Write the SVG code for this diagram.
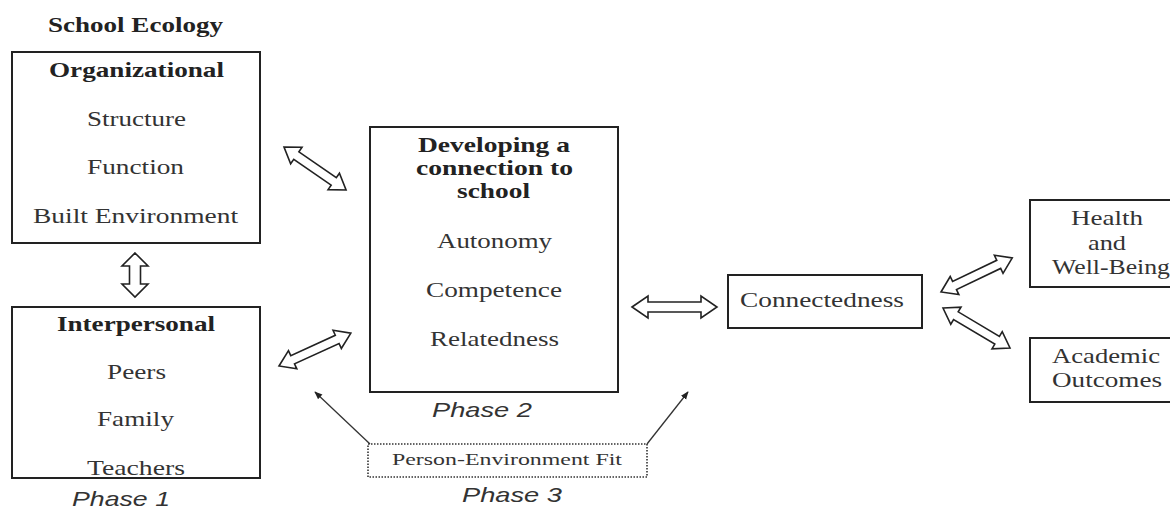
<svg xmlns="http://www.w3.org/2000/svg" width="1170" height="512" viewBox="0 0 1170 512">
<defs>
<style>
.box{fill:#fff;stroke:#222;stroke-width:2}
.dot{fill:#fff;stroke:#333;stroke-width:1.6;stroke-dasharray:1.5 1.5}
.t{font-family:"Liberation Serif","Times New Roman",serif;font-size:21px;fill:#333}
.b{font-family:"Liberation Serif","Times New Roman",serif;font-size:21px;font-weight:bold;fill:#222}
.s{font-family:"Liberation Serif","Times New Roman",serif;font-size:17px;fill:#333}
.p{font-family:"Liberation Sans",Arial,sans-serif;font-size:21px;font-style:italic;fill:#333}
.da{fill:#fff;stroke:#222;stroke-width:1.6;stroke-linejoin:miter}
.thin{fill:none;stroke:#333;stroke-width:1.3}
</style>
<marker id="ah" viewBox="0 0 10 10" refX="9" refY="5" markerWidth="8" markerHeight="8" orient="auto" markerUnits="userSpaceOnUse">
<path d="M0,1 L10,5 L0,9 Z" fill="#222"/>
</marker>
</defs>
<rect width="1170" height="512" fill="#fff"/>

<text class="b" x="48" y="32" textLength="175" lengthAdjust="spacingAndGlyphs">School Ecology</text>

<g id="organizational">
<rect class="box" x="12" y="52" width="248" height="191"/>
<text class="b" x="49" y="77" textLength="175" lengthAdjust="spacingAndGlyphs">Organizational</text>
<text class="t" x="87" y="126" textLength="99" lengthAdjust="spacingAndGlyphs">Structure</text>
<text class="t" x="87" y="174" textLength="97" lengthAdjust="spacingAndGlyphs">Function</text>
<text class="t" x="33" y="223" textLength="205" lengthAdjust="spacingAndGlyphs">Built Environment</text>
</g>

<g id="interpersonal">
<rect class="box" x="12" y="307" width="248" height="171"/>
<text class="b" x="57" y="331" textLength="158" lengthAdjust="spacingAndGlyphs">Interpersonal</text>
<text class="t" x="107" y="379" textLength="59" lengthAdjust="spacingAndGlyphs">Peers</text>
<text class="t" x="97" y="426" textLength="77" lengthAdjust="spacingAndGlyphs">Family</text>
<text class="t" x="87" y="475" textLength="98" lengthAdjust="spacingAndGlyphs">Teachers</text>
</g>
<text class="p" x="72" y="506" textLength="98" lengthAdjust="spacingAndGlyphs">Phase 1</text>

<g id="developing">
<rect class="box" x="370" y="127" width="248" height="265"/>
<text class="b" x="418" y="152" textLength="152" lengthAdjust="spacingAndGlyphs">Developing a</text>
<text class="b" x="416" y="175" textLength="157" lengthAdjust="spacingAndGlyphs">connection to</text>
<text class="b" x="457" y="198" textLength="73" lengthAdjust="spacingAndGlyphs">school</text>
<text class="t" x="437" y="248" textLength="115" lengthAdjust="spacingAndGlyphs">Autonomy</text>
<text class="t" x="426" y="297" textLength="136" lengthAdjust="spacingAndGlyphs">Competence</text>
<text class="t" x="430" y="346" textLength="129" lengthAdjust="spacingAndGlyphs">Relatedness</text>
</g>
<text class="p" x="432" y="417" textLength="100" lengthAdjust="spacingAndGlyphs">Phase 2</text>

<g id="connectedness">
<rect class="box" x="728" y="275" width="194" height="53"/>
<text class="t" x="740" y="307" textLength="164" lengthAdjust="spacingAndGlyphs">Connectedness</text>
</g>

<g id="health">
<rect class="box" x="1030" y="200" width="160" height="87"/>
<text class="t" x="1071" y="225" textLength="72" lengthAdjust="spacingAndGlyphs">Health</text>
<text class="t" x="1088" y="250" textLength="38" lengthAdjust="spacingAndGlyphs">and</text>
<text class="t" x="1052" y="274" textLength="118" lengthAdjust="spacingAndGlyphs">Well-Being</text>
</g>

<g id="academic">
<rect class="box" x="1030" y="338" width="160" height="64"/>
<text class="t" x="1052" y="363" textLength="108" lengthAdjust="spacingAndGlyphs">Academic</text>
<text class="t" x="1052" y="387" textLength="110" lengthAdjust="spacingAndGlyphs">Outcomes</text>
</g>

<g id="fit">
<rect class="dot" x="368" y="444" width="279" height="33"/>
<text class="s" x="392" y="465" textLength="230" lengthAdjust="spacingAndGlyphs">Person-Environment Fit</text>
</g>
<text class="p" x="462" y="502" textLength="100" lengthAdjust="spacingAndGlyphs">Phase 3</text>

<g id="connectors">
<path class="da" transform="translate(135,253) rotate(90)" d="M0,0 L13,-13 L13,-5.5 L31,-5.5 L31,-13 L44,0 L31,13 L31,5.5 L13,5.5 L13,13 Z"/>
<path class="da" transform="translate(284,147) rotate(34.7)" d="M0,0 L15,-10 L15,-4.5 L60.5,-4.5 L60.5,-10 L75.5,0 L60.5,10 L60.5,4.5 L15,4.5 L15,10 Z"/>
<path class="da" transform="translate(279,366) rotate(-24.6)" d="M0,0 L15,-10 L15,-4.5 L64,-4.5 L64,-10 L79,0 L64,10 L64,4.5 L15,4.5 L15,10 Z"/>
<path class="da" transform="translate(632,307)" d="M0,0 L16,-11 L16,-5 L69,-5 L69,-11 L85,0 L69,11 L69,5 L16,5 L16,11 Z"/>
<path class="da" transform="translate(941,292) rotate(-25.6)" d="M0,0 L15,-10 L15,-4.5 L64,-4.5 L64,-10 L79,0 L64,10 L64,4.5 L15,4.5 L15,10 Z"/>
<path class="da" transform="translate(943,308) rotate(30.8)" d="M0,0 L15,-10 L15,-4.5 L63,-4.5 L63,-10 L78,0 L63,10 L63,4.5 L15,4.5 L15,10 Z"/>
<line class="thin" x1="370" y1="444" x2="315" y2="392" marker-end="url(#ah)"/>
<line class="thin" x1="647" y1="444" x2="688" y2="392" marker-end="url(#ah)"/>
</g>
</svg>
